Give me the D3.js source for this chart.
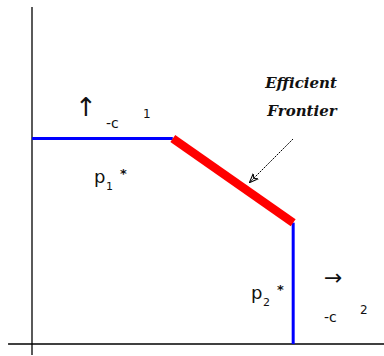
<!DOCTYPE html>
<html>
<head>
<meta charset="utf-8">
<script src="https://cdn.jsdelivr.net/npm/d3@7"></script>
<style>
  body { margin: 0; background: #fff; }
  text { font-family: "DejaVu Sans", sans-serif; fill: #111; }
</style>
</head>
<body>
<svg id="chart" width="384" height="356"></svg>
<script>
// frontier corner points (data units)
var flatX = [0, 4.0];
var flatY = [6.1, 6.1];
var frontX = [4.0, 7.42];
var frontY = [6.1, 3.6];
var dropX = [7.42, 7.42];
var dropY = [3.6, 0];

var svg = d3.select("#chart");

var x = d3.scaleLinear().domain([0, 10]).range([32, 384]);
var y = d3.scaleLinear().domain([0, 10]).range([344, 7]);

function seg(xs, ys) {
  return xs.map(function(d, i) { return [x(d), y(ys[i])]; });
}
var line = d3.line();

// axes
svg.append("line")
  .attr("x1", x(0)).attr("x2", x(0))
  .attr("y1", y(10)).attr("y2", y(-0.33))
  .attr("stroke", "#000").attr("stroke-width", 1.3);
svg.append("line")
  .attr("x1", x(-0.68)).attr("x2", x(10))
  .attr("y1", y(0)).attr("y2", y(0))
  .attr("stroke", "#000").attr("stroke-width", 1.3);

// blue constraint segments
svg.append("path")
  .attr("d", line(seg(flatX, flatY)))
  .attr("stroke", "#0000ff").attr("stroke-width", 3).attr("fill", "none");
svg.append("path")
  .attr("d", line(seg(dropX, dropY)))
  .attr("stroke", "#0000ff").attr("stroke-width", 3).attr("fill", "none");

// red efficient frontier
svg.append("path")
  .attr("d", line(seg(frontX, frontY)))
  .attr("stroke", "#ff0000").attr("stroke-width", 8.5).attr("fill", "none");

// pointer arrow
svg.append("defs").append("marker")
  .attr("id", "ah").attr("viewBox", "0 0 10 10")
  .attr("refX", 9).attr("refY", 5)
  .attr("markerWidth", 9).attr("markerHeight", 9)
  .attr("orient", "auto")
  .append("path").attr("d", "M0,1 L10,5 L0,9 L3,5 Z")
  .attr("fill", "none").attr("stroke", "#000").attr("stroke-width", 1.2);
svg.append("line")
  .attr("x1", 293).attr("y1", 139)
  .attr("x2", 250).attr("y2", 182)
  .attr("stroke", "#000").attr("stroke-width", 1)
  .attr("stroke-dasharray", "2,1")
  .attr("marker-end", "url(#ah)");

// labels
svg.append("text").attr("x", 301).attr("y", 88)
  .attr("text-anchor", "middle")
  .style("font-family", "'DejaVu Serif', serif")
  .style("font-style", "italic").style("font-weight", "bold")
  .style("font-size", "15px")
  .text("Efficient");
svg.append("text").attr("x", 302).attr("y", 116)
  .attr("text-anchor", "middle")
  .style("font-family", "'DejaVu Serif', serif")
  .style("font-style", "italic").style("font-weight", "bold")
  .style("font-size", "15px")
  .text("Frontier");

// p1* and p2*
function pLabel(px, py, sub) {
  svg.append("text").attr("x", px).attr("y", py)
    .style("font-size", "18px").text("p");
  svg.append("text").attr("x", px + 12).attr("y", py + 7)
    .style("font-size", "11px").text(sub);
  svg.append("text").attr("x", px + 26).attr("y", py - 5)
    .style("font-size", "13px").style("font-weight", "bold").text("*");
}
pLabel(94, 183, "1");
pLabel(251, 299, "2");

// upper left label (q vector minus c1)
svg.append("text").attr("x", 86).attr("y", 116)
  .attr("text-anchor", "middle").style("font-size", "26px").text("↑");
svg.append("text").attr("x", 106).attr("y", 128)
  .style("font-size", "14px").text("-c");
svg.append("text").attr("x", 143).attr("y", 118)
  .style("font-size", "12px").text("1");

// lower right label
svg.append("text").attr("x", 324).attr("y", 285)
  .style("font-size", "22px").text("→");
svg.append("text").attr("x", 324).attr("y", 322)
  .style("font-size", "14px").text("-c");
svg.append("text").attr("x", 360).attr("y", 314)
  .style("font-size", "12px").text("2");
</script>
</body>
</html>
